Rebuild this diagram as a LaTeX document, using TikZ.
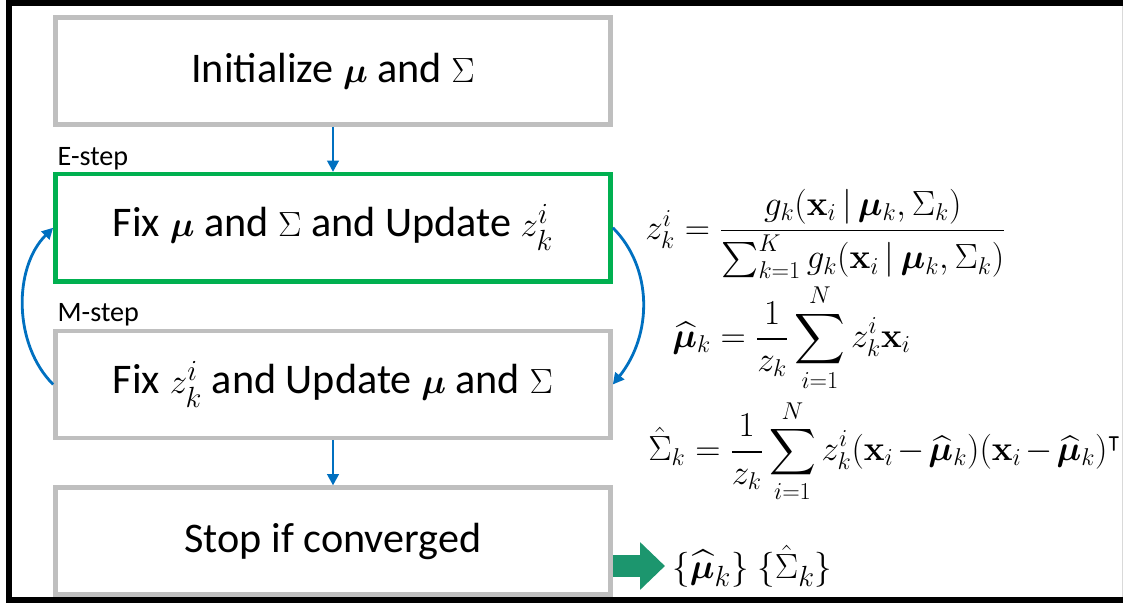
\documentclass[tikz,border=0pt]{standalone}
\usepackage[no-math]{fontspec}
\setmainfont{Carlito}
\usepackage{amsmath,amssymb,bm}
\usetikzlibrary{arrows.meta,positioning}
\definecolor{boxgray}{RGB}{191,191,191}
\definecolor{stepgreen}{RGB}{0,176,80}
\definecolor{flowblue}{RGB}{0,112,192}
\definecolor{outgreen}{RGB}{28,150,110}

\begin{document}
\begin{tikzpicture}[
    x=0.025cm, y=-0.025cm,
    node distance=1.13cm,
    box/.style={draw=boxgray, line width=3.2pt, fill=white,
                minimum width=13.875cm, minimum height=2.675cm, align=center,
                font=\fontsize{30}{36}\selectfont},
    ebox/.style={box, draw=stepgreen},
    steplabel/.style={anchor=base west, inner sep=0pt, font=\fontsize{20}{24}\selectfont},
    eqn/.style={anchor=west, inner sep=0pt, font=\fontsize{25}{30}\selectfont},
    arr/.style={-{Triangle[length=8pt,width=8pt]}, line width=2pt, flowblue},
    loopArr/.style={-{Triangle[length=8pt,width=8pt]}, line width=2pt, flowblue},
    outArr/.style={-{Triangle[length=0.62cm,width=1.15cm]}, line width=0.55cm, outgreen}
]
\useasboundingbox (0,0) rectangle (1123,603);
% frame
\draw[line width=0.15cm] (1123,3) -- (9,3) -- (9,600) -- (1123,600);
\draw[black!15, line width=0.6pt] (1122,6) -- (1122,597);

\node[box] (init) at (333,71) {Initialize $\bm{\mu}$ and $\Sigma$};
\node[ebox, below=of init] (estep) {Fix $\bm{\mu}$ and $\Sigma$ and Update $z_k^i$};
\node[box, below=of estep] (mstep) {Fix $z_k^i$ and Update $\bm{\mu}$ and $\Sigma$};
\node[box, below=of mstep] (stop) {Stop if converged};

\node[steplabel] (elabel) at ([xshift=3pt, yshift=0.17cm]estep.north west) {E-step};
\node[steplabel] (mlabel) at ([xshift=3pt, yshift=0.17cm]mstep.north west) {M-step};

% update formulas
\node[eqn] (zeq) at (645,234)
    {$z_k^i = \dfrac{g_k(\mathbf{x}_i\,|\,\bm{\mu}_k,\Sigma_k)}{\sum_{k=1}^K g_k(\mathbf{x}_i\,|\,\bm{\mu}_k,\Sigma_k)}$};
\node[eqn] (mueq) at (672,338)
    {$\displaystyle\widehat{\bm{\mu}}_k = \frac{1}{z_k}\sum_{i=1}^N z_k^i\mathbf{x}_i$};
\node[eqn, font=\fontsize{23}{28}\selectfont] (sigeq) at (648,451)
    {\medmuskip=2mu$\displaystyle\hat{\Sigma}_k = \frac{1}{z_k}\sum_{i=1}^N z_k^i(\mathbf{x}_i-\widehat{\bm{\mu}}_k)(\mathbf{x}_i-\widehat{\bm{\mu}}_k)^{\intercal}$};
\node[eqn, font=\fontsize{28}{33}\selectfont] (result) at (672,566)
    {$\{\widehat{\bm{\mu}}_k\}\ \{\hat{\Sigma}_k\}$};

\draw[arr] (init) -- (estep);
\draw[arr] (mstep) -- (stop);
\draw[loopArr] (estep.east) .. controls +(40,40) and +(40,-50) .. (mstep.east);
\draw[loopArr] (mstep.west) .. controls +(-40,-40) and +(-40,40) .. (estep.west);
\draw[outArr, shorten >=5pt] (result.west -| stop.east) -- (result.west);
\end{tikzpicture}
\end{document}
